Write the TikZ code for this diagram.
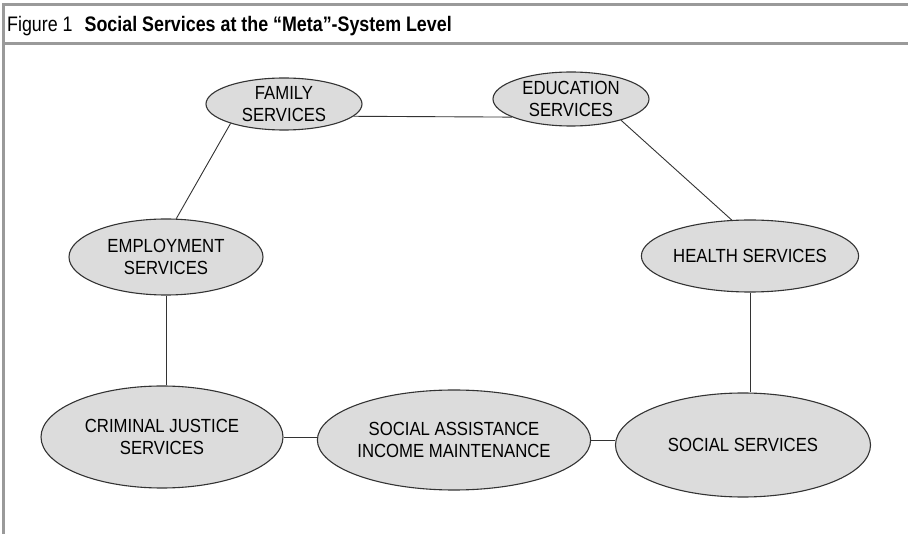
\documentclass[tikz,border=0pt]{standalone}
\usepackage{fontspec}
\setmainfont{Liberation Sans}
\newfontfamily\ovalfont[FakeStretch=0.88]{Liberation Sans}
\newfontfamily\captfont[FakeStretch=0.85]{Liberation Sans}
\usepackage{tikz}
\usetikzlibrary{shapes.geometric}
\definecolor{FrameGray}{HTML}{9A9A9A}
\definecolor{OvalFill}{HTML}{DCDCDC}
\definecolor{OvalLine}{HTML}{333333}

\begin{document}
\begin{tikzpicture}[x=1pt,y=-1pt,
    oval/.style={ellipse,draw=OvalLine,fill=OvalFill,line width=1.1pt,inner sep=0pt,
      align=center,font=\ovalfont\fontsize{19}{22}\selectfont},
    link/.style={draw=black!80,line width=0.9pt}]
        \useasboundingbox (0,0) rectangle (908,534);
        % Frame and title bar
        \draw[FrameGray,line width=3pt] (3,534) -- (3,5) -- (908,5);
        \draw[FrameGray,line width=3pt] (3,44) -- (908,44);
        \node[anchor=base west,inner sep=0pt,font=\captfont\fontsize{21}{25}\selectfont] (title) at (7,32)
          {Figure 1\hspace{12pt}\textbf{Social Services at the “Meta”-System Level}};
        % Service ovals
        \node[oval,minimum width=156,minimum height=52] (fam) at (284,104) {FAMILY\\SERVICES};
        \node[oval,minimum width=156,minimum height=54] (edu) at (571,99) {EDUCATION\\SERVICES};
        \node[oval,minimum width=194,minimum height=76] (emp) at (166,257) {EMPLOYMENT\\SERVICES};
        \node[oval,minimum width=210,minimum height=72] (hlth) at (750,256) {HEALTH SERVICES};
        \node[oval,minimum width=242,minimum height=102] (crim) at (162,437) {CRIMINAL JUSTICE\\SERVICES};
        \node[oval,minimum width=266,minimum height=100] (assist) at (454,440) {SOCIAL ASSISTANCE\\INCOME MAINTENANCE};
        \node[oval,minimum width=255,minimum height=104] (soc) at (743,445) {SOCIAL SERVICES};
        % Links
        \draw[link] (fam.-10) -- (edu.197);
        \draw[link] (fam.200) -- (emp.75);
        \draw[link] (edu.-23) -- (hlth.117);
        \draw[link] (hlth.south) -- (hlth.south |- soc.north);
        \draw[link] (emp.south) -- (emp.south |- crim.north);
        \draw[link] (crim.east) -- (crim.east -| assist.west);
        \draw[link] (assist.east) -- (assist.east -| soc.west);
      \end{tikzpicture}
\end{document}
